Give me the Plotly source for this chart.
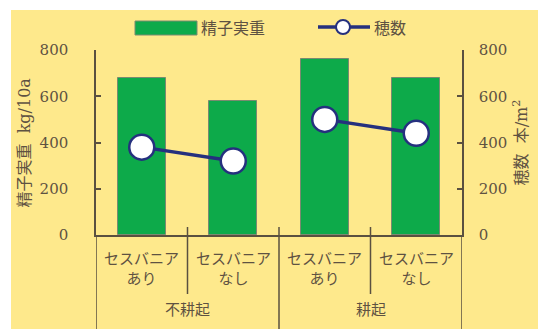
import plotly.graph_objects as go

# ---- data ----
groups = ["不耕起", "不耕起", "耕起", "耕起"]
sub_labels = ["セスバニア<br>あり", "セスバニア<br>なし", "セスバニア<br>あり", "セスバニア<br>なし"]
categories = ["c1", "c2", "c3", "c4"]
grain_weight = [680, 580, 760, 680]      # 精子実重 kg/10a
panicle_count = [380, 320, 500, 440]     # 穂数 本/m2
group_names = ["不耕起", "耕起"]
y_ticks = [0, 200, 400, 600, 800]

YELLOW = "#FEE98C"
GREEN = "#0DAA4A"
NAVY = "#25307E"
TXT = "#5E5242"
AX = "#5A5040"
FONT = "DejaVu Serif, Noto Sans CJK JP, serif"
NUMFONT = "DejaVu Serif"

W, H = 538, 329
L, R, T, B = 96, 76, 50, 94
pw, ph = W - L - R, H - T - B


def px_x(px):
    return (px - L) / pw


def px_y(py):
    return (H - B - py) / ph


fig = go.Figure()

fig.add_trace(go.Bar(
    x=categories, y=grain_weight, name="精子実重",
    marker=dict(color=GREEN, line=dict(color="#7A8A70", width=1)),
    width=0.52, showlegend=False, yaxis="y",
))

for sl in [slice(0, 2), slice(2, 4)]:
    fig.add_trace(go.Scatter(
        x=categories[sl], y=panicle_count[sl], mode="lines+markers", name="穂数",
        line=dict(color=NAVY, width=3.5),
        marker=dict(size=25, color="white", line=dict(color=NAVY, width=2.5)),
        showlegend=False, yaxis="y2",
    ))

shapes = []
# yellow background panel
shapes.append(dict(type="rect", xref="paper", yref="paper",
                   x0=px_x(11), x1=px_x(545), y0=px_y(335), y1=px_y(10),
                   fillcolor=YELLOW, line=dict(width=0), layer="below"))
# divider lines between sub categories (within group)
for xv in [0.5, 2.5]:
    shapes.append(dict(type="line", xref="x", yref="paper", x0=xv, x1=xv,
                       y0=px_y(227), y1=px_y(294), line=dict(color=AX, width=1.5)))
# group boundaries
for xv in [-0.5, 1.5, 3.5]:
    shapes.append(dict(type="line", xref="x", yref="paper", x0=xv, x1=xv,
                       y0=px_y(227) if xv == 1.5 else 0, y1=px_y(329),
                       line=dict(color=AX, width=1.5)))

# legend (manual)
shapes.append(dict(type="rect", xref="paper", yref="paper",
                   x0=px_x(135), x1=px_x(197), y0=px_y(35), y1=px_y(21),
                   fillcolor=GREEN, line=dict(color="#7A8A70", width=1)))
shapes.append(dict(type="line", xref="paper", yref="paper",
                   x0=px_x(318), x1=px_x(370), y0=px_y(27), y1=px_y(27),
                   line=dict(color=NAVY, width=3.5)))
shapes.append(dict(type="circle", xref="paper", yref="paper",
                   x0=px_x(336), x1=px_x(350), y0=px_y(34), y1=px_y(20),
                   fillcolor="white", line=dict(color=NAVY, width=2)))

annotations = []
for c, lab in zip(categories, sub_labels):
    annotations.append(dict(x=c, xref="x", y=px_y(248), yref="paper", text=lab,
                            showarrow=False, yanchor="top",
                            font=dict(size=15, color=TXT, family=FONT)))
for gi, g in enumerate(group_names):
    annotations.append(dict(x=0.5 + 2 * gi, xref="x", y=px_y(310), yref="paper", text=g,
                            showarrow=False, yanchor="middle",
                            font=dict(size=15, color=TXT, family=FONT)))
annotations.append(dict(x=px_x(199), xref="paper", y=px_y(28), yref="paper", text="精子実重",
                        showarrow=False, xanchor="left", yanchor="middle",
                        font=dict(size=16, color=TXT, family=FONT)))
annotations.append(dict(x=px_x(372), xref="paper", y=px_y(28), yref="paper", text="穂数",
                        showarrow=False, xanchor="left", yanchor="middle",
                        font=dict(size=16, color=TXT, family=FONT)))
# axis titles
annotations.append(dict(x=px_x(24), xref="paper", y=0.5, yref="paper", text="精子実重  kg/10a",
                        showarrow=False, textangle=-90, xanchor="center", yanchor="middle",
                        font=dict(size=16, color=TXT, family=FONT)))
annotations.append(dict(x=px_x(521), xref="paper", y=0.5, yref="paper", text="穂数  本/m<sup>2</sup>",
                        showarrow=False, textangle=-90, xanchor="center", yanchor="middle",
                        font=dict(size=16, color=TXT, family=FONT)))

fig.update_layout(
    width=W, height=H,
    margin=dict(l=L, r=R, t=T, b=B, pad=0, autoexpand=False),
    paper_bgcolor="white",
    plot_bgcolor="rgba(0,0,0,0)",
    showlegend=False,
    bargap=0,
    xaxis=dict(type="category", categoryorder="array", categoryarray=categories,
               range=[-0.5, 3.5], showticklabels=False, ticks="",
               showline=True, linecolor=AX, linewidth=1.5, showgrid=False, zeroline=False,
               fixedrange=True, automargin=False),
    yaxis=dict(range=[0, 800], tickvals=y_ticks, ticks="inside", ticklen=5,
               tickcolor=AX, tickwidth=1.5, automargin=False,
               showline=True, linecolor=AX, linewidth=1.5, showgrid=False, zeroline=False,
               tickfont=dict(size=15, color=TXT, family=NUMFONT), ticklabelstandoff=23),
    yaxis2=dict(range=[0, 800], tickvals=y_ticks, overlaying="y", side="right",
                ticks="inside", ticklen=5, tickcolor=AX, tickwidth=1.5, automargin=False,
                showline=True, linecolor=AX, linewidth=1.5, showgrid=False, zeroline=False,
                tickfont=dict(size=15, color=TXT, family=NUMFONT), ticklabelstandoff=12),
    shapes=shapes,
    annotations=annotations,
)

fig.write_html("out.html", config={"displayModeBar": False},
               post_script="document.body.style.margin='0';")
